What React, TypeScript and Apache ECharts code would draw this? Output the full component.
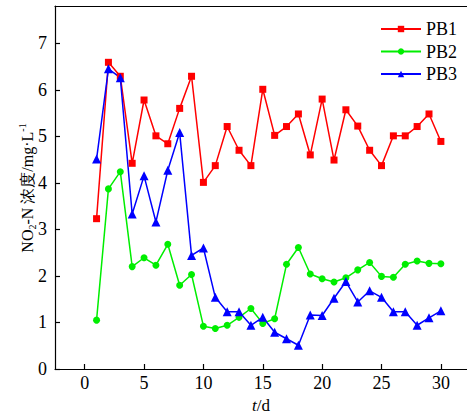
import React, { useEffect, useRef } from "react";
import * as echarts from "echarts";

const days = [1, 2, 3, 4, 5, 6, 7, 8, 9, 10, 11, 12, 13, 14, 15, 16, 17, 18, 19, 20, 21, 22, 23, 24, 25, 26, 27, 28, 29, 30];
const pb1 = [3.23, 6.59, 6.29, 4.42, 5.78, 5.01, 4.84, 5.6, 6.29, 4.01, 4.37, 5.21, 4.7, 4.37, 6.01, 5.02, 5.21, 5.48, 4.6, 5.8, 4.49, 5.57, 5.22, 4.7, 4.37, 5.01, 5.01, 5.21, 5.48, 4.89];
const pb2 = [1.05, 3.87, 4.24, 2.2, 2.39, 2.23, 2.68, 1.8, 2.03, 0.92, 0.87, 0.94, 1.11, 1.3, 0.98, 1.08, 2.25, 2.61, 2.04, 1.94, 1.87, 1.96, 2.13, 2.29, 1.99, 1.97, 2.25, 2.32, 2.27, 2.26];
const pb3 = [4.51, 6.45, 6.26, 3.33, 4.15, 3.16, 4.27, 5.08, 2.44, 2.6, 1.54, 1.23, 1.23, 0.94, 1.11, 0.79, 0.65, 0.51, 1.16, 1.15, 1.52, 1.88, 1.44, 1.68, 1.54, 1.23, 1.23, 0.94, 1.1, 1.25];
const xTicks = [0, 5, 10, 15, 20, 25, 30];
const yTicks = [0, 1, 2, 3, 4, 5, 6, 7];
const seriesNames = ["PB1", "PB2", "PB3"];

const FONT = "Liberation Serif";

export default function App() {
  const ref = useRef<HTMLDivElement>(null);
  useEffect(() => {
    if (!ref.current) return;
    const chart = echarts.init(ref.current, undefined, { renderer: "svg" });
    const pairs = (vals: number[]) => days.map((d, i) => [d, vals[i]]);
    const lineStyle = { width: 1.5 };
    chart.setOption({
      animation: false,
      textStyle: { fontFamily: FONT },
      grid: { left: 55, right: 0, top: 6, bottom: 50 },
      legend: {
        left: 375,
        top: 15,
        orient: "vertical",
        itemWidth: 40,
        itemHeight: 8,
        itemGap: 4.5,
        data: seriesNames,
        textStyle: { fontFamily: FONT, fontSize: 18, color: "#000", lineHeight: 18 },
      },
      xAxis: [
        {
          type: "value",
          min: -2.5,
          max: 32.2,
          name: "{i|t}/d",
          nameLocation: "middle",
          nameGap: 28,
          nameTextStyle: {
            fontFamily: FONT,
            fontSize: 17,
            color: "#000",
            rich: { i: { fontStyle: "italic", fontFamily: FONT, fontSize: 17, color: "#000" } },
          },
          splitLine: { show: false },
          axisLine: { onZero: false, lineStyle: { color: "#000", width: 1.2 } },
          axisTick: { inside: true, length: 5, customValues: xTicks, lineStyle: { color: "#000", width: 1.2 } },
          axisLabel: { customValues: xTicks, fontFamily: FONT, fontSize: 18, color: "#000", margin: 5 },
        },
        {
          type: "value",
          position: "top",
          min: -2.5,
          max: 32.2,
          splitLine: { show: false },
          axisLine: { show: true, onZero: false, lineStyle: { color: "#000", width: 1.2 } },
          axisTick: { show: false },
          axisLabel: { show: false },
        },
      ],
      yAxis: {
        type: "value",
        min: 0,
        max: 7.8,
        splitLine: { show: false },
        axisLine: { show: true, onZero: false, lineStyle: { color: "#000", width: 1.2 } },
        axisTick: { inside: true, length: 5, customValues: yTicks, lineStyle: { color: "#000", width: 1.2 } },
        axisLabel: { customValues: yTicks, fontFamily: FONT, fontSize: 18, color: "#000", margin: 8 },
      },
      graphic: [
        {
          type: "text",
          x: 27,
          y: 188,
          rotation: Math.PI / 2,
          style: {
            text: "{m|NO}{s|2}{m|-N 浓度/mg·L}{p|-1}",
            align: "center",
            verticalAlign: "middle",
            fill: "#000",
            rich: {
              m: { fontFamily: FONT, fontSize: 16, lineHeight: 20, verticalAlign: "middle", fill: "#000" },
              s: { fontFamily: FONT, fontSize: 10, lineHeight: 10, verticalAlign: "bottom", fill: "#000" },
              p: { fontFamily: FONT, fontSize: 10, lineHeight: 12, verticalAlign: "top", fill: "#000" },
            },
          },
        },
      ],
      series: [
        {
          name: "PB1",
          type: "line",
          xAxisIndex: 0,
          data: pairs(pb1),
          color: "#ff0000",
          symbol: "rect",
          symbolSize: 7,
          lineStyle,
        },
        {
          name: "PB2",
          type: "line",
          xAxisIndex: 0,
          data: pairs(pb2),
          color: "#00ee00",
          symbol: "circle",
          symbolSize: 7,
          lineStyle,
        },
        {
          name: "PB3",
          type: "line",
          xAxisIndex: 0,
          data: pairs(pb3),
          color: "#0000ff",
          symbol: "triangle",
          symbolSize: 9,
          lineStyle,
        },
      ],
    });
    return () => chart.dispose();
  }, []);
  return <div ref={ref} style={{ width: 467, height: 419, position: "absolute", left: 0, top: 0 }} />;
}
